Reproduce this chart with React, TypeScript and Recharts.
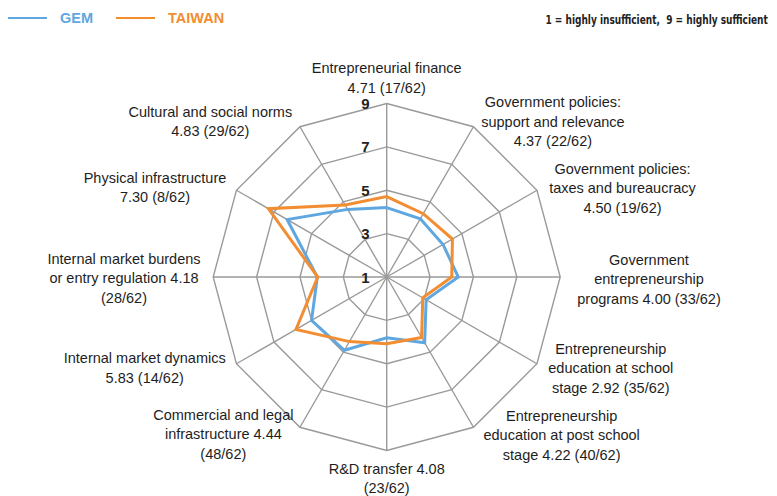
import { RadarChart, Radar, PolarGrid, PolarAngleAxis, PolarRadiusAxis, Legend } from 'recharts';

const categories = [
    'Entrepreneurial finance',
    'Government policies: support and relevance',
    'Government policies: taxes and bureaucracy',
    'Government entrepreneurship programs',
    'Entrepreneurship education at school stage',
    'Entrepreneurship education at post school stage',
    'R&D transfer',
    'Commercial and legal infrastructure',
    'Internal market dynamics',
    'Internal market burdens or entry regulation',
    'Physical infrastructure',
    'Cultural and social norms',
];

const taiwan = [4.71, 4.37, 4.5, 4.0, 2.92, 4.22, 4.08, 4.44, 5.83, 4.18, 7.3, 4.83];
const gem = [4.2, 4.1, 4.0, 4.3, 3.1, 4.5, 3.8, 4.9, 5.0, 4.2, 6.3, 4.6];

const tickLabels = [
    ['Entrepreneurial finance', '4.71 (17/62)'],
    ['Government policies:', 'support and relevance', '4.37 (22/62)'],
    ['Government policies:', 'taxes and bureaucracy', '4.50 (19/62)'],
    ['Government', 'entrepreneurship', 'programs 4.00 (33/62)'],
    ['Entrepreneurship', 'education at school', 'stage 2.92 (35/62)'],
    ['Entrepreneurship', 'education at post school', 'stage 4.22 (40/62)'],
    ['R&D transfer 4.08', '(23/62)'],
    ['Commercial and legal', 'infrastructure 4.44', '(48/62)'],
    ['Internal market dynamics', '5.83 (14/62)'],
    ['Internal market burdens', 'or entry regulation 4.18', '(28/62)'],
    ['Physical infrastructure', '7.30 (8/62)'],
    ['Cultural and social norms', '4.83 (29/62)'],
];

const radiusTicks = [1, 3, 5, 7, 9];

const data = categories.map((c, i) => ({ category: c, gem: gem[i], taiwan: taiwan[i] }));

// where each label block sits, relative to its tick point
const labelShift = [
    [0, -17.5], [75.5, 2], [78.6, 2], [80.8, 2], [66.9, 0.5], [84.2, 1],
    [0, 19.8], [-72.6, 0], [-84.8, 0], [-81.2, 1], [-74.5, 1], [-85.6, 1.5],
];

const FONT = '"Liberation Sans", Arial, sans-serif';
const LINE_H = 19.5;

function AngleTick(props: any) {
    const { x, y, payload } = props;
    let i = categories.indexOf(payload.value);
    if (i < 0) i = payload.index ?? 0;
    const lines = tickLabels[i];
    const [dx, dy] = labelShift[i];
    const top = y + dy - ((lines.length - 1) * LINE_H) / 2;
    return (
        <text textAnchor="middle" fontFamily={FONT} fontSize={14.5} fill="#1e1e1e">
            {lines.map((l, k) => (
                <tspan key={k} x={x + dx} y={top + k * LINE_H} dominantBaseline="central">{l}</tspan>
            ))}
        </text>
    );
}

function RadiusTick(props: any) {
    const { x, y, payload } = props;
    return (
        <text x={x - 17} y={y} textAnchor="end" dominantBaseline="central" fontFamily={FONT} fontSize={15} fontWeight="bold" fill="#222">
            {payload.value}
        </text>
    );
}

function LegendContent({ payload }: any) {
    return (
        <div style={{ display: 'flex', alignItems: 'center', fontFamily: FONT, fontWeight: 'bold', fontSize: 14.5 }}>
            {(payload || []).map((p: any, k: number) => (
                <div key={k} style={{ display: 'flex', alignItems: 'center', marginRight: k === 0 ? 23 : 0 }}>
                    <div style={{ width: 39, height: 2.5, background: p.color, marginRight: 13 }} />
                    <span style={{ color: p.color }}>{p.value}</span>
                </div>
            ))}
        </div>
    );
}

export default function App() {
    return (
        <div style={{ position: 'relative', width: 761, height: 488 }}>
            <RadarChart width={761} height={488} data={data} cx={378.7} cy={269} outerRadius={173.5}
                margin={{ top: 0, right: 0, bottom: 0, left: 0 }}>
                <PolarGrid gridType="polygon" stroke="#9a9a9a" strokeWidth={1.4} />
                <PolarAngleAxis dataKey="category" tick={AngleTick} axisLine={false} tickLine={false} tickSize={8} />
                <PolarRadiusAxis type="number" domain={[1, 9]} ticks={radiusTicks} angle={90}
                    axisLine={false} tickLine={false} tick={RadiusTick} />
                <Radar name="GEM" dataKey="gem" stroke="#5fa7e0" strokeWidth={3} fill="none" fillOpacity={0}
                    dot={false} isAnimationActive={false} />
                <Radar name="TAIWAN" dataKey="taiwan" stroke="#f28d31" strokeWidth={3} fill="none" fillOpacity={0}
                    dot={false} isAnimationActive={false} />
                <Legend content={LegendContent} verticalAlign="top" align="left"
                    wrapperStyle={{ position: 'absolute', top: 2, left: 0, width: 'auto' }} />
            </RadarChart>
            <div style={{ position: 'absolute', top: 4, right: 1, fontFamily: '"Liberation Sans Narrow", "DejaVu Sans Condensed", sans-serif', fontWeight: 'bold', fontSize: 13, color: '#222', whiteSpace: 'pre', transform: 'scaleX(0.77)', transformOrigin: 'right center' }}>
                {'1 = highly insufficient,  9 = highly sufficient'}
            </div>
        </div>
    );
}
